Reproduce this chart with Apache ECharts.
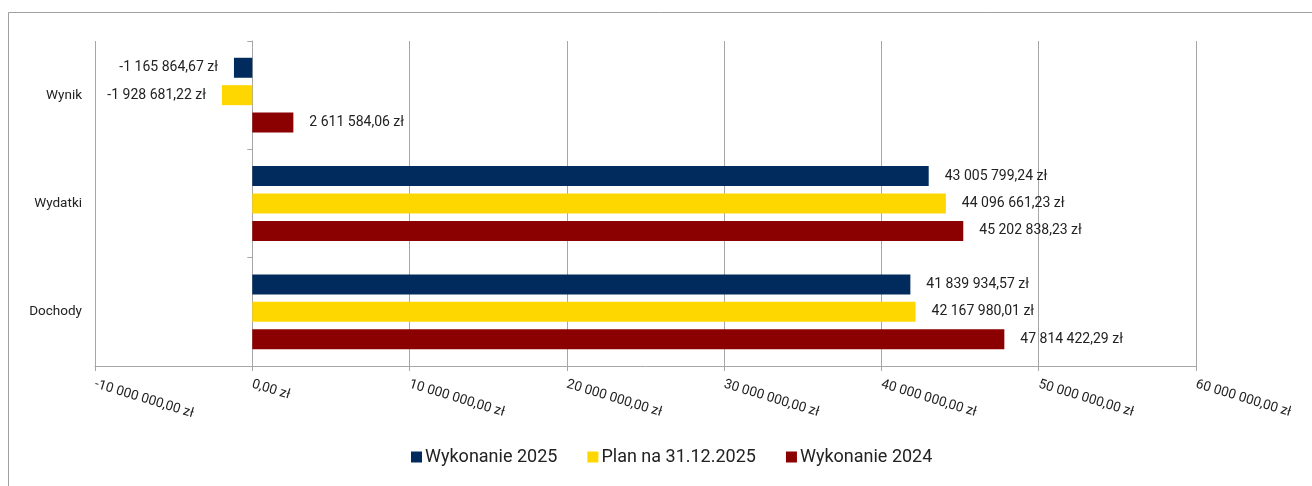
<!DOCTYPE html>
<html>
<head>
<meta charset="utf-8">
<script src="https://cdn.jsdelivr.net/npm/echarts@6/dist/echarts.min.js"></script>
<style>
  html, body { margin: 0; padding: 0; background: #fff; }
  #chart { width: 1312px; height: 486px; }
</style>
</head>
<body>
<div id="chart"></div>
<script>
// kategorie od góry do dołu
const categories = ["Wynik", "Wydatki", "Dochody"];
const seriesNames = ["Wykonanie 2025", "Plan na 31.12.2025", "Wykonanie 2024"];
const wykonanie2025 = [-1165864.67, 43005799.24, 41839934.57];
const plan2025 = [-1928681.22, 44096661.23, 42167980.01];
const wykonanie2024 = [2611584.06, 45202838.23, 47814422.29];
const colors = ["#002B5C", "#FFD700", "#8B0000"];

const font = "Roboto, 'Liberation Sans', sans-serif";

// format: 1 234 567,89 zł
function zl(v) {
  const neg = v < 0;
  const parts = Math.abs(v).toFixed(2).split(".");
  const int = parts[0].replace(/\B(?=(\d{3})+(?!\d))/g, " ");
  return (neg ? "-" : "") + int + "," + parts[1] + " zł";
}

function makeSeries(name, values, color) {
  return {
    name: name,
    type: "bar",
    barWidth: 20,
    barGap: "37%",
    itemStyle: { color: color },
    label: {
      show: true,
      color: "#222",
      fontFamily: font,
      fontSize: 14,
      distance: 16,
      formatter: (p) => zl(p.value),
    },
    data: values.map((v) => ({
      value: v,
      label: { position: v < 0 ? "left" : "right" },
    })),
  };
}

const chart = echarts.init(document.getElementById("chart"));
chart.setOption({
  animation: false,
  graphic: [
    {
      type: "rect",
      shape: { x: 8.5, y: 12.5, width: 1320, height: 500 },
      style: { fill: "none", stroke: "#a0a0a0", lineWidth: 1 },
      silent: true,
    },
  ],
  grid: { left: 95, right: 116, top: 41, bottom: 120 },
  legend: {
    data: seriesNames,
    bottom: 15,
    left: 406,
    itemWidth: 11,
    itemHeight: 11,
    itemGap: 30,
    icon: "rect",
    textStyle: { fontFamily: font, fontSize: 18, color: "#222", padding: [0, 0, 0, -2] },
  },
  xAxis: {
    type: "value",
    min: -10000000,
    max: 60000000,
    interval: 10000000,
    axisLine: { show: true, lineStyle: { color: "#a6a6a6" } },
    axisTick: { show: true, length: 5, lineStyle: { color: "#a6a6a6" } },
    splitLine: { show: true, lineStyle: { color: "#a6a6a6" } },
    axisLabel: {
      rotate: -17,
      margin: 18,
      color: "#222",
      fontFamily: font,
      fontSize: 13.5,
      formatter: (v) => zl(v),
    },
  },
  yAxis: [
    {
      type: "category",
      data: categories,
      inverse: true,
      axisLine: { show: true, onZero: true, lineStyle: { color: "#a6a6a6" } },
      axisTick: { show: true, length: 5, lineStyle: { color: "#a6a6a6" } },
      axisLabel: { show: false },
    },
    {
      type: "category",
      data: categories,
      inverse: true,
      position: "left",
      axisLine: { show: false, onZero: false },
      axisTick: { show: false },
      axisLabel: { color: "#222", fontFamily: font, fontSize: 13.5, margin: 13 },
    },
  ],
  series: [
    makeSeries(seriesNames[0], wykonanie2025, colors[0]),
    makeSeries(seriesNames[1], plan2025, colors[1]),
    makeSeries(seriesNames[2], wykonanie2024, colors[2]),
  ],
});
</script>
</body>
</html>
